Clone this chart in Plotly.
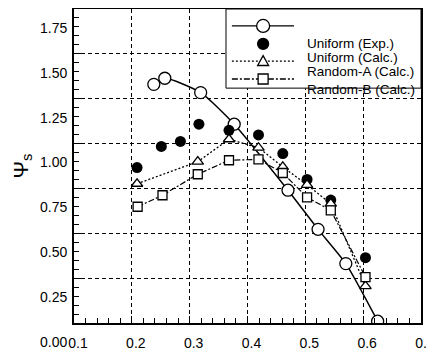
import plotly.graph_objects as go

# ---- data ----
exp_x = [0.238, 0.257, 0.319, 0.377, 0.470, 0.522, 0.570, 0.625]
exp_y = [1.33, 1.364, 1.284, 1.108, 0.740, 0.522, 0.331, 0.01]

ucalc_x = [0.209, 0.251, 0.284, 0.316, 0.368, 0.419, 0.461, 0.503, 0.544, 0.604]
ucalc_y = [0.866, 0.984, 1.012, 1.108, 1.074, 1.048, 0.944, 0.80, 0.685, 0.364]

ra_x = [0.209, 0.314, 0.368, 0.419, 0.461, 0.503, 0.544, 0.604]
ra_y = [0.776, 0.899, 1.024, 0.977, 0.87, 0.77, 0.665, 0.206]

rb_x = [0.210, 0.253, 0.314, 0.368, 0.419, 0.461, 0.503, 0.544, 0.604]
rb_y = [0.648, 0.712, 0.829, 0.907, 0.912, 0.836, 0.70, 0.628, 0.256]

legend_labels = ["Uniform (Exp.)", "Uniform (Calc.)", "Random-A (Calc.)", "Random-B (Calc.)"]

y_ticks = [0.0, 0.25, 0.5, 0.75, 1.0, 1.25, 1.5, 1.75]
y_ticktext = ["0.00", "0.25", "0.50", "0.75", "1.00", "1.25", "1.50", "1.75"]
x_ticks = [0.1, 0.2, 0.3, 0.4, 0.5, 0.6, 0.7]
x_ticktext = ["0.1", "0.2", "0.3", "0.4", "0.5", "0.6", "0.7"]

FONT = "Liberation Sans, Arial, sans-serif"

fig = go.Figure()

fig.add_trace(go.Scatter(
    x=exp_x, y=exp_y, mode="lines+markers",
    line=dict(color="black", width=1.5, shape="spline", smoothing=0.6),
    marker=dict(symbol="circle", size=12, color="white", line=dict(color="black", width=1.3)),
    showlegend=False))
fig.add_trace(go.Scatter(
    x=ucalc_x, y=ucalc_y, mode="markers",
    marker=dict(symbol="circle", size=11, color="black"),
    showlegend=False))
fig.add_trace(go.Scatter(
    x=ra_x, y=ra_y, mode="lines+markers",
    line=dict(color="black", width=1.3, dash="2px,2px"),
    marker=dict(symbol="triangle-up", size=10, color="white", line=dict(color="black", width=1.3)),
    showlegend=False))
fig.add_trace(go.Scatter(
    x=rb_x, y=rb_y, mode="lines+markers",
    line=dict(color="black", width=1.2, dash="6px,2px,2px,2px"),
    marker=dict(symbol="square", size=9, color="white", line=dict(color="black", width=1.3)),
    showlegend=False))

# ---- custom legend drawn with paper-anchored shapes ----
fig.add_shape(type="rect", xref="paper", yref="paper", x0=0.438, x1=1.0, y0=0.748, y1=1.0,
              fillcolor="white", line=dict(color="black", width=1), layer="above")

lx0, lmid, lx1 = 0.455, 0.545, 0.634
leg_rows = [0.946, 0.889, 0.834, 0.777]
leg_dash = ["solid", None, "2px,2px", "6px,2px,2px,2px"]
for yy, dsh in zip(leg_rows, leg_dash):
    if dsh is not None:
        fig.add_shape(type="line", xref="paper", yref="paper", x0=lx0, x1=lx1, y0=yy, y1=yy,
                      line=dict(color="black", width=1.3, dash=dsh), layer="above")

def sym(kind, yy, size, fill):
    h = size / 2
    common = dict(xref="paper", yref="paper", xsizemode="pixel", ysizemode="pixel",
                  xanchor=lmid, yanchor=yy, fillcolor=fill,
                  line=dict(color="black", width=1.3), layer="above")
    if kind == "circle":
        fig.add_shape(type="circle", x0=-h, x1=h, y0=-h, y1=h, **common)
    elif kind == "square":
        fig.add_shape(type="rect", x0=-h, x1=h, y0=-h, y1=h, **common)
    else:
        fig.add_shape(type="path", path=f"M {-h} {-h*0.8} L {h} {-h*0.8} L 0 {h} Z", **common)

sym("circle", leg_rows[0], 13, "white")
sym("circle", leg_rows[1], 11, "black")
sym("triangle", leg_rows[2], 11, "white")
sym("square", leg_rows[3], 10, "white")

text_rows = [0.8917, 0.847, 0.801, 0.744]
for lab, yy in zip(legend_labels, text_rows):
    fig.add_annotation(x=0.6657, y=yy, xref="paper", yref="paper", text=lab, showarrow=False,
                       xanchor="left", yanchor="middle", font=dict(family=FONT, size=13.5, color="black"))

grid_dash = "4px,3px"
fig.update_layout(
    width=427, height=345,
    margin=dict(l=66, r=14, t=1, b=30, autoexpand=False),
    paper_bgcolor="white", plot_bgcolor="white",
    font=dict(family=FONT, color="black"),
    xaxis=dict(
        range=[0.1, 0.7], tickvals=x_ticks, ticktext=x_ticktext,
        showgrid=True, gridcolor="black", gridwidth=1, griddash=grid_dash,
        zeroline=False, showline=True, linecolor="black", linewidth=1.8, mirror=True,
        ticks="inside", ticklen=7, tickcolor="black", tickwidth=1,
        ticklabelstandoff=6, ticklabelshift=4,
        tickfont=dict(family=FONT, size=14, color="black"),
        minor=dict(dtick=0.02, ticks="inside", ticklen=5, tickcolor="black", showgrid=False),
    ),
    yaxis=dict(
        range=[0, 1.75], tickvals=y_ticks, ticktext=y_ticktext,
        showgrid=True, gridcolor="black", gridwidth=1, griddash=grid_dash,
        zeroline=False, showline=True, linecolor="black", linewidth=1.8, mirror=True,
        ticks="inside", ticklen=7, tickcolor="black", tickwidth=1,
        ticklabelshift=19, ticklabelstandoff=2,
        tickfont=dict(family=FONT, size=14, color="black"),
        minor=dict(dtick=0.05, ticks="inside", ticklen=5, tickcolor="black", showgrid=False),
        title=dict(text="Ψ<sub>s</sub>", font=dict(family=FONT, size=21, color="black"), standoff=6),
    ),
)

fig.write_html("out.html", post_script="document.body.style.overflow='hidden';")
